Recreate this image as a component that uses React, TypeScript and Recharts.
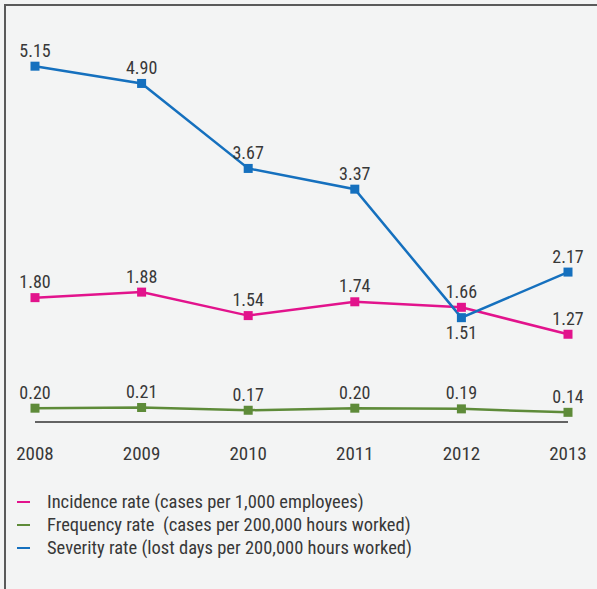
import { LineChart, Line, XAxis, YAxis, LabelList } from "recharts";

const years = ["2008", "2009", "2010", "2011", "2012", "2013"];
const incidence = [1.8, 1.88, 1.54, 1.74, 1.66, 1.27];
const frequency = [0.2, 0.21, 0.17, 0.2, 0.19, 0.14];
const severity = [5.15, 4.9, 3.67, 3.37, 1.51, 2.17];

const SERIES = [
  { key: "incidence", name: "Incidence rate (cases per 1,000 employees)", color: "#e2138c" },
  { key: "frequency", name: "Frequency rate  (cases per 200,000 hours worked)", color: "#5e8b39" },
  { key: "severity", name: "Severity rate (lost days per 200,000 hours worked)", color: "#1570be" },
];

const FONT = "'Liberation Sans Narrow', 'Roboto Condensed', Roboto, sans-serif";
const TEXT = "#383838";

const data = years.map((year, i) => ({
  year,
  incidence: incidence[i],
  frequency: frequency[i],
  severity: severity[i],
}));

const SquareDot = (color: string) => (props: any) => {
  const { cx, cy } = props;
  if (cx == null || cy == null) return null;
  return <rect x={cx - 4.5} y={cy - 4.5} width={9} height={9} fill={color} />;
};

// labels sit above the point, except the ones listed as below
const makeLabel = (below: number[]) => (props: any) => {
  const { x, y, value, index } = props;
  const dy = below.includes(index) ? 15 : -16;
  return (
    <text
      x={x}
      y={y + dy}
      textAnchor="middle"
      dominantBaseline="central"
      fill={TEXT}
      fontSize={18}
      fontFamily={FONT}
    >
      {Number(value).toFixed(2)}
    </text>
  );
};

export default function App() {
  return (
    <div
      style={{
        position: "absolute",
        left: 0,
        top: 0,
        width: 597,
        height: 589,
        background: "#f3f4f4",
        overflow: "hidden",
      }}
    >
      <div
        style={{
          position: "absolute",
          left: 4,
          top: 4,
          right: 0,
          bottom: 0,
          borderTop: "2px solid #5a5a5a",
          borderLeft: "2px solid #5a5a5a",
        }}
      />
      <div style={{ position: "absolute", left: 0, top: 0 }}>
        <LineChart
          width={597}
          height={589}
          data={data}
          margin={{ top: 42, right: 29, left: 35, bottom: 127 }}
        >
          <XAxis
            dataKey="year"
            height={40}
            padding={{ left: 0, right: 0 }}
            tickLine={false}
            tickSize={0}
            tickMargin={25}
            axisLine={{ stroke: "#333", strokeWidth: 1.5 }}
            tick={{ fill: TEXT, fontSize: 19, fontFamily: FONT }}
            interval={0}
          />
          <YAxis hide domain={[0, 5.5]} />
          {SERIES.map((s) => (
            <Line
              key={s.key}
              dataKey={s.key}
              stroke={s.color}
              strokeWidth={2.5}
              dot={SquareDot(s.color)}
              activeDot={false}
              isAnimationActive={false}
              type="linear"
            >
              <LabelList dataKey={s.key} content={makeLabel(s.key === "severity" ? [4] : [])} />
            </Line>
          ))}
        </LineChart>
      </div>
      <div style={{ position: "absolute", left: 17, top: 490, fontFamily: FONT, fontSize: 18.5, color: TEXT }}>
        {SERIES.map((s) => (
          <div key={s.key} style={{ display: "flex", alignItems: "center", height: 23 }}>
            <div style={{ width: 13, height: 2, background: s.color, marginRight: 17, flexShrink: 0 }} />
            <span style={{ whiteSpace: "pre" }}>{s.name}</span>
          </div>
        ))}
      </div>
    </div>
  );
}
